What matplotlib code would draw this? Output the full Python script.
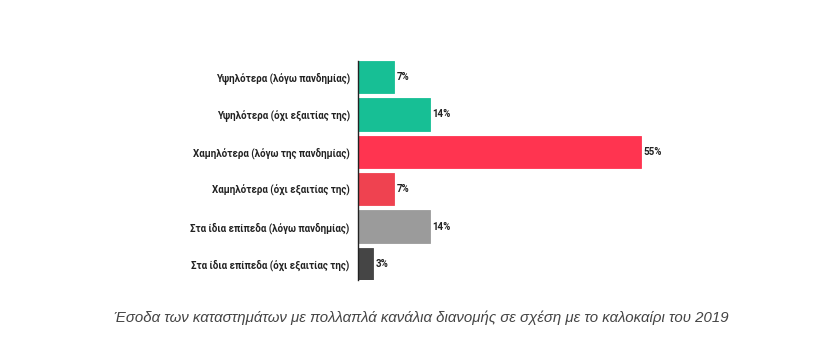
import matplotlib
matplotlib.use("Agg")
import matplotlib.pyplot as plt

# categories and shares (%)
labels = ["Υψηλότερα (λόγω πανδημίας)",
          "Υψηλότερα (όχι εξαιτίας της)",
          "Χαμηλότερα (λόγω της πανδημίας)",
          "Χαμηλότερα (όχι εξαιτίας της)",
          "Στα ίδια επίπεδα (λόγω πανδημίας)",
          "Στα ίδια επίπεδα (όχι εξαιτίας της)"]
values = [7, 14, 55, 7, 14, 3]
colors = ["#17bf95", "#17bf95", "#ff3450", "#ef4250", "#9b9b9b", "#454545"]
caption = "Έσοδα των καταστημάτων με πολλαπλά κανάλια διανομής σε σχέση με το καλοκαίρι του 2019"

W, H = 830, 342
fig = plt.figure(figsize=(W / 100, H / 100), dpi=100)
# axes placed in pixel terms: left 358, top 61, bottom 280
ax = fig.add_axes([358 / W, 1 - 280 / H, 309 / W, 219 / H])

pos = list(range(len(values)))
ax.barh(pos, values, height=0.86, color=colors, edgecolor=colors, linewidth=0.6)
for p, v in zip(pos, values):
    ax.text(v + 0.45, p, f"{v}%", va="center", ha="left", fontsize=7,
            fontweight="bold", color="#222222", family="Roboto")

ax.set_xlim(0, 60)
ax.set_ylim(len(values) - 0.57, -0.43)
ax.set_yticks(pos)
ax.set_yticklabels(labels, fontsize=7, fontweight="bold", color="#222222", family="Roboto")
ax.tick_params(axis="y", length=0, pad=6)
ax.set_xticks([])
for s in ["top", "right", "bottom"]:
    ax.spines[s].set_visible(False)
ax.spines["left"].set_color("#222222")
ax.spines["left"].set_linewidth(1.0)

fig.text(421 / W, 1 - 318 / H, caption, ha="center", va="center", fontsize=10.8,
         style="italic", color="#444444", family="Liberation Sans")

fig.savefig("out.png", dpi=100)
